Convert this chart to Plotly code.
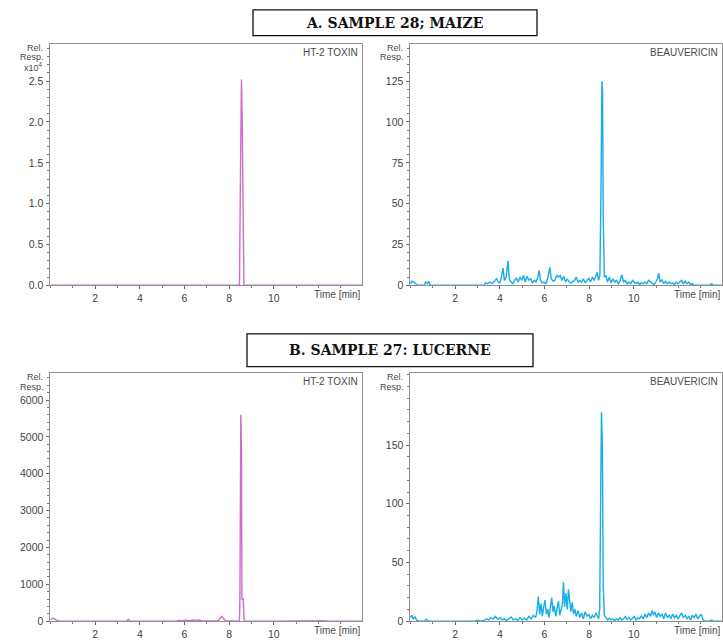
import plotly.graph_objects as go

# ---------------- data ----------------
TITLES = ["A. SAMPLE 28; MAIZE", "B. SAMPLE 27: LUCERNE"]
COMPOUNDS = ["HT-2 TOXIN", "BEAUVERICIN"]
X_TICKS = [2, 4, 6, 8, 10]

# HT-2 toxin, sample 28 (maize)  (time [min], rel. response)
HT2_A = [(0.00, 0), (8.40, 0), (8.46, 0), (8.51, 15000), (8.55, 25200), (8.58, 21000),
         (8.61, 10500), (8.66, 0), (8.72, 0), (13.95, 0)]

# HT-2 toxin, sample 27 (lucerne)
HT2_B = [(0.00, 40), (0.08, 80), (0.18, 60), (0.30, 10), (0.45, 0), (1.90, 0), (2.00, 20),
         (2.10, 0), (3.40, 0), (3.48, 50), (3.56, 0), (5.60, 0), (5.75, 20), (5.90, 10),
         (6.05, 25), (6.20, 15), (6.35, 30), (6.50, 20), (6.65, 30), (6.80, 5), (7.50, 10),
         (7.58, 60), (7.66, 130), (7.74, 70), (7.84, 10), (8.40, 0), (8.46, 0), (8.48, 600),
         (8.52, 5600), (8.55, 4600), (8.57, 600), (8.63, 600), (8.67, 0), (10.0, 0),
         (11.4, 10), (11.7, 25), (11.9, 20), (12.2, 10), (12.5, 0), (13.95, 0)]

# Beauvericin, sample 28 (maize)
BEA_A = [(0.00, 1), (0.05, 2.5), (0.15, 2), (0.25, 0.5), (0.35, 0), (0.62, 0), (0.67, 2),
         (0.75, 1), (0.80, 2.5), (0.88, 0), (3.30, 0), (3.35, 1.5), (3.45, 1), (3.55, 2),
         (3.65, 1), (3.75, 2.5), (3.85, 4), (3.92, 2), (4.00, 1.5), (4.08, 6), (4.14, 10.5),
         (4.20, 3), (4.28, 5), (4.36, 15), (4.42, 4), (4.50, 2), (4.58, 1), (4.66, 3),
         (4.74, 4.5), (4.82, 2), (4.90, 5), (4.98, 3), (5.06, 6), (5.14, 2), (5.22, 5.5),
         (5.30, 3), (5.38, 4), (5.46, 1.5), (5.54, 3), (5.62, 2), (5.70, 5), (5.76, 9),
         (5.82, 3), (5.90, 1.5), (5.98, 2), (6.06, 1), (6.14, 4), (6.24, 11), (6.30, 4),
         (6.38, 2.5), (6.46, 3), (6.54, 6), (6.62, 5), (6.70, 6), (6.78, 3), (6.86, 5.5),
         (6.94, 2), (7.02, 4), (7.10, 2), (7.18, 1.5), (7.26, 2.5), (7.34, 3), (7.42, 5),
         (7.50, 2), (7.58, 3), (7.66, 2), (7.74, 4), (7.82, 1.5), (7.90, 3), (7.98, 4.5),
         (8.06, 2), (8.14, 5), (8.22, 3), (8.30, 6), (8.36, 8), (8.42, 3), (8.48, 6),
         (8.53, 60), (8.57, 125), (8.60, 118), (8.63, 40), (8.68, 5), (8.75, 6), (8.82, 2),
         (8.90, 5), (8.98, 1.5), (9.06, 4), (9.14, 2), (9.22, 3), (9.30, 1), (9.38, 2.5),
         (9.46, 6.5), (9.54, 2), (9.62, 3), (9.70, 1), (9.78, 2), (9.86, 1), (9.94, 3),
         (10.02, 2), (10.10, 1), (10.18, 2), (10.26, 0.5), (10.34, 1.5), (10.42, 1),
         (10.50, 2), (10.58, 1), (10.66, 3), (10.74, 2), (10.82, 1), (10.90, 0.5),
         (10.98, 2), (11.06, 4), (11.12, 7.5), (11.18, 2), (11.26, 3.5), (11.34, 1),
         (11.42, 2.5), (11.50, 1), (11.58, 2), (11.66, 1), (11.74, 1.5), (11.82, 0.5),
         (11.90, 2), (11.98, 1), (12.06, 2), (12.14, 3), (12.22, 1), (12.30, 2.5),
         (12.38, 1), (12.46, 2), (12.54, 0.5), (12.62, 1), (12.70, 0), (13.40, 0),
         (13.48, 1), (13.56, 0), (13.95, 0)]

# Beauvericin, sample 27 (lucerne)
BEA_B = [(0.00, 3), (0.05, 5), (0.12, 2), (0.20, 3.5), (0.28, 0.5), (0.40, 0), (0.62, 0),
         (0.70, 1.5), (0.80, 0), (2.90, 0), (3.00, 1), (3.10, 0), (3.30, 0.5), (3.40, 2),
         (3.50, 1), (3.60, 3), (3.70, 2), (3.80, 4), (3.90, 1.5), (4.00, 3), (4.10, 1),
         (4.20, 2), (4.30, 0.5), (4.40, 2), (4.50, 3.5), (4.60, 1), (4.70, 2), (4.80, 0.5),
         (4.90, 3), (5.00, 1), (5.10, 2.5), (5.20, 1), (5.30, 4), (5.40, 2), (5.50, 5),
         (5.60, 3), (5.66, 8), (5.72, 21), (5.78, 6), (5.84, 15), (5.90, 4), (5.96, 12),
         (6.02, 18), (6.08, 6), (6.14, 10), (6.20, 3), (6.26, 14), (6.32, 20), (6.38, 8),
         (6.44, 13), (6.50, 4), (6.56, 10), (6.62, 17), (6.68, 5), (6.74, 9), (6.80, 14),
         (6.85, 33), (6.90, 12), (6.96, 24), (7.02, 10), (7.07, 27), (7.12, 15), (7.18, 8),
         (7.24, 16), (7.30, 6), (7.36, 10), (7.42, 4), (7.50, 9), (7.58, 3), (7.66, 7),
         (7.74, 2), (7.82, 8), (7.90, 4), (7.98, 6), (8.06, 2), (8.14, 5), (8.22, 3),
         (8.30, 7), (8.36, 4), (8.42, 2), (8.47, 10), (8.51, 80), (8.55, 178), (8.59, 150),
         (8.63, 30), (8.68, 5), (8.74, 3), (8.82, 1), (8.90, 2.5), (8.98, 1), (9.06, 2),
         (9.14, 0.5), (9.22, 2), (9.30, 1), (9.38, 3), (9.46, 1), (9.54, 2), (9.62, 4),
         (9.70, 1.5), (9.78, 3), (9.86, 1), (9.94, 2.5), (10.02, 4), (10.10, 1), (10.18, 3),
         (10.26, 2), (10.34, 4.5), (10.42, 2), (10.50, 6), (10.58, 3), (10.66, 7),
         (10.74, 4), (10.82, 9), (10.88, 5), (10.94, 8), (11.02, 3), (11.10, 7), (11.18, 4),
         (11.26, 6), (11.34, 2), (11.42, 7), (11.50, 3), (11.58, 5), (11.66, 2), (11.74, 6),
         (11.82, 3), (11.90, 5), (11.98, 2), (12.06, 4), (12.14, 7), (12.22, 3), (12.30, 5),
         (12.38, 2), (12.46, 4), (12.54, 1), (12.62, 5), (12.70, 3), (12.78, 6), (12.86, 2),
         (12.94, 4), (13.02, 6), (13.10, 1), (13.20, 0), (13.40, 0), (13.48, 1), (13.56, 0),
         (13.95, 0)]

# y-axis tick values / labels per panel
HT2_A_TICKS = [0, 5000, 10000, 15000, 20000, 25000]
HT2_A_LABELS = ["0.0", "0.5", "1.0", "1.5", "2.0", "2.5"]
BEA_A_TICKS = [0, 25, 50, 75, 100, 125]
HT2_B_TICKS = [0, 1000, 2000, 3000, 4000, 5000, 6000]
BEA_B_TICKS = [0, 50, 100, 150]

# ---------------- figure ----------------
W, H = 723, 642
def px(x):
    return x / W
def py(y):
    return 1 - y / H

PINK = "#cf6cc7"
BLUE = "#17ade6"
TICKFONT = dict(family="Liberation Sans, Arial, sans-serif", size=10.5, color="#3f3f3f")
LBLFONT = dict(family="Liberation Sans, Arial, sans-serif", size=10, color="#4a4a4a")
SMALLFONT = dict(family="Liberation Sans, Arial, sans-serif", size=9, color="#4a4a4a")

panels = [
    dict(data=HT2_A, color=PINK, xd=(49.5, 362), yd=(44, 288), ymax=29600,
         tv=HT2_A_TICKS, tt=HT2_A_LABELS, minor=1000, name=COMPOUNDS[0], exp=True),
    dict(data=BEA_A, color=BLUE, xd=(409.5, 722), yd=(44, 288), ymax=148,
         tv=BEA_A_TICKS, tt=[str(v) for v in BEA_A_TICKS], minor=5, name=COMPOUNDS[1], exp=False),
    dict(data=HT2_B, color=PINK, xd=(49.5, 362), yd=(377, 627), ymax=6720,
         tv=HT2_B_TICKS, tt=[str(v) for v in HT2_B_TICKS], minor=200, name=COMPOUNDS[0], exp=False),
    dict(data=BEA_B, color=BLUE, xd=(409.5, 722), yd=(377, 627), ymax=211,
         tv=BEA_B_TICKS, tt=[str(v) for v in BEA_B_TICKS], minor=10, name=COMPOUNDS[1], exp=False),
]

fig = go.Figure()
annotations = []
shapes = []
layout = {}

for i, p in enumerate(panels, start=1):
    sfx = "" if i == 1 else str(i)
    t = [a for a, b in p["data"]]
    v = [b for a, b in p["data"]]
    fig.add_trace(go.Scatter(x=t, y=v, mode="lines", xaxis="x" + sfx, yaxis="y" + sfx,
                             line=dict(color=p["color"], width=1.4), showlegend=False,
                             hoverinfo="skip"))
    x0, x1 = p["xd"]
    ytop, ybot = p["yd"]
    layout["xaxis" + sfx] = dict(
        domain=[px(x0), px(x1)], anchor="y" + sfx, range=[-0.05, 13.95],
        tickvals=X_TICKS, ticks="outside", ticklen=3, tickcolor="#666666",
        showline=True, mirror=True, linecolor="#8f8f8f", linewidth=1,
        showgrid=False, zeroline=False, tickfont=TICKFONT,
        minor=dict(dtick=1, tick0=0, ticks="outside", ticklen=2, tickcolor="#777777"))
    layout["yaxis" + sfx] = dict(
        domain=[py(ybot), py(ytop)], anchor="x" + sfx, range=[0, p["ymax"]],
        tickvals=p["tv"], ticktext=p["tt"], ticks="outside", ticklen=3, tickcolor="#666666",
        showline=True, mirror=True, linecolor="#8f8f8f", linewidth=1,
        showgrid=False, zeroline=False, tickfont=TICKFONT,
        minor=dict(dtick=p["minor"], tick0=0, ticks="outside", ticklen=2, tickcolor="#777777"))
    # compound name top-right inside
    annotations.append(dict(xref="paper", yref="paper", x=px(x1 - 2), y=py(ytop + 1),
                            xanchor="right", yanchor="top", text=p["name"], showarrow=False,
                            font=LBLFONT))
    # Time [min]
    annotations.append(dict(xref="paper", yref="paper", x=px(x1 + 1), y=py(ybot + 2),
                            xanchor="right", yanchor="top", text="Time [min]", showarrow=False,
                            font=LBLFONT))
    # Rel. / Resp.
    annotations.append(dict(xref="paper", yref="paper", x=px(x0 - 5), y=py(ytop + 4),
                            xanchor="right", yanchor="middle", text="Rel.", showarrow=False,
                            font=SMALLFONT))
    annotations.append(dict(xref="paper", yref="paper", x=px(x0 - 4), y=py(ytop + 14),
                            xanchor="right", yanchor="middle", text="Resp.", showarrow=False,
                            font=SMALLFONT))
    if p["exp"]:
        annotations.append(dict(xref="paper", yref="paper", x=px(x0 - 5), y=py(ytop + 24),
                                xanchor="right", yanchor="middle", text="x10<sup>4</sup>",
                                showarrow=False, font=SMALLFONT))

# title boxes
boxes = [((253, 537), (10, 36), TITLES[0]), ((247, 533), (337, 370), TITLES[1])]
for (bx0, bx1), (by0, by1), txt in boxes:
    shapes.append(dict(type="rect", xref="paper", yref="paper", x0=px(bx0), x1=px(bx1),
                       y0=py(by1), y1=py(by0), line=dict(color="#111111", width=1.3)))
    annotations.append(dict(xref="paper", yref="paper", x=px((bx0 + bx1) / 2),
                            y=py((by0 + by1) / 2), xanchor="center", yanchor="middle",
                            text="<b>" + txt + "</b>", showarrow=False,
                            font=dict(family="DejaVu Serif, Liberation Serif, serif", size=14,
                                      color="#111111")))

fig.update_layout(width=W, height=H, margin=dict(l=0, r=0, t=0, b=0),
                  paper_bgcolor="white", plot_bgcolor="white",
                  annotations=annotations, shapes=shapes, **layout)

fig.write_html("out.html")
